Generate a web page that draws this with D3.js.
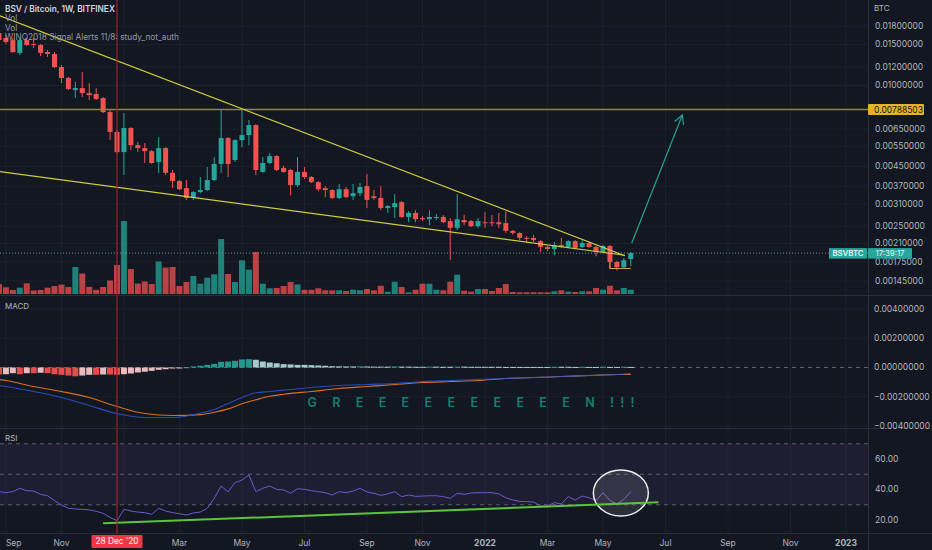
<!DOCTYPE html>
<html>
<head>
<meta charset="utf-8">
<script src="https://cdn.jsdelivr.net/npm/d3@7"></script>
<style>
  body { margin: 0; background: #131722; overflow: hidden; }
  text { font-family: Inter, "Noto Sans", sans-serif; }
</style>
</head>
<body>
<div id="chart"></div>
<script>

// ---- data (weekly candles, first week 31 Aug 2020) ----
var firstWeek = "2020-08-31", lastWeekEnd = "2022-06-06";

var opens = [0.01679,0.01599,0.01567,0.01379,0.01567,0.01507,0.01492,0.01392,0.01365,0.01200,0.01077,0.00956,0.00975,0.00928,0.00919,0.00883,0.00769,0.00632,0.00518,0.00657,0.00555,0.00539,0.00523,0.00470,0.00539,0.00422,0.00389,0.00363,0.00329,0.00349,0.00356,0.00393,0.00461,0.00595,0.00479,0.00583,0.00613,0.00676,0.00426,0.00465,0.00498,0.00443,0.00434,0.00374,0.00426,0.00405,0.00385,0.00363,0.00356,0.00329,0.00359,0.00335,0.00345,0.00370,0.00335,0.00329,0.00298,0.00301,0.00316,0.00273,0.00284,0.00270,0.00267,0.00270,0.00273,0.00262,0.00245,0.00265,0.00262,0.00249,0.00259,0.00259,0.00259,0.00257,0.00238,0.00233,0.00222,0.00222,0.00215,0.00203,0.00199,0.00207,0.00203,0.00215,0.00203,0.00211,0.00203,0.00193,0.00205,0.00175,0.00166,0.00180];
var highs = [0.01713,0.01647,0.01599,0.01583,0.01583,0.01599,0.01507,0.01420,0.01392,0.01224,0.01090,0.01035,0.01142,0.01025,0.00975,0.00892,0.00785,0.00644,0.00762,0.00663,0.00572,0.00566,0.00529,0.00601,0.00544,0.00434,0.00393,0.00393,0.00352,0.00405,0.00447,0.00493,0.00785,0.00601,0.00589,0.00800,0.00711,0.00683,0.00493,0.00513,0.00503,0.00452,0.00439,0.00493,0.00447,0.00409,0.00389,0.00370,0.00359,0.00378,0.00367,0.00378,0.00382,0.00418,0.00356,0.00370,0.00307,0.00342,0.00320,0.00289,0.00292,0.00275,0.00292,0.00281,0.00278,0.00270,0.00342,0.00278,0.00265,0.00270,0.00286,0.00278,0.00284,0.00289,0.00240,0.00235,0.00226,0.00229,0.00217,0.00205,0.00213,0.00222,0.00217,0.00217,0.00217,0.00215,0.00205,0.00207,0.00207,0.00177,0.00182,0.00193];
var lows = [0.01552,0.01507,0.01379,0.01352,0.01477,0.01449,0.01338,0.01325,0.01188,0.01025,0.00956,0.00883,0.00892,0.00866,0.00866,0.00762,0.00583,0.00510,0.00413,0.00529,0.00518,0.00465,0.00461,0.00422,0.00413,0.00363,0.00356,0.00323,0.00323,0.00345,0.00352,0.00389,0.00422,0.00405,0.00470,0.00544,0.00555,0.00413,0.00422,0.00461,0.00430,0.00422,0.00338,0.00367,0.00397,0.00382,0.00352,0.00332,0.00326,0.00326,0.00329,0.00323,0.00335,0.00298,0.00323,0.00292,0.00284,0.00270,0.00270,0.00259,0.00259,0.00262,0.00252,0.00265,0.00257,0.00178,0.00240,0.00252,0.00247,0.00245,0.00245,0.00249,0.00245,0.00233,0.00229,0.00217,0.00211,0.00213,0.00193,0.00195,0.00187,0.00201,0.00201,0.00199,0.00201,0.00201,0.00185,0.00191,0.00164,0.00161,0.00164,0.00168];
var closes = [0.01567,0.01537,0.01392,0.01567,0.01492,0.01492,0.01379,0.01365,0.01200,0.01077,0.00965,0.00975,0.00928,0.00910,0.00875,0.00769,0.00632,0.00518,0.00657,0.00555,0.00539,0.00523,0.00465,0.00539,0.00422,0.00389,0.00359,0.00329,0.00349,0.00356,0.00393,0.00461,0.00595,0.00461,0.00583,0.00613,0.00676,0.00434,0.00465,0.00498,0.00434,0.00426,0.00374,0.00426,0.00405,0.00385,0.00359,0.00356,0.00329,0.00359,0.00332,0.00345,0.00367,0.00323,0.00329,0.00298,0.00304,0.00313,0.00273,0.00284,0.00267,0.00267,0.00273,0.00273,0.00259,0.00245,0.00267,0.00259,0.00249,0.00262,0.00257,0.00257,0.00254,0.00238,0.00233,0.00222,0.00220,0.00217,0.00203,0.00199,0.00207,0.00203,0.00215,0.00201,0.00211,0.00203,0.00193,0.00205,0.00175,0.00166,0.00178,0.00191];
var volumes = [1000,670,400,630,1070,350,400,630,800,950,700,2700,2050,720,420,700,1350,2900,7300,2500,1050,1250,1000,3250,2650,2700,800,1200,1800,1030,1630,1970,5500,2000,1200,3370,2430,4200,1030,570,600,800,1200,950,420,420,570,370,370,370,300,430,370,500,370,830,230,1230,700,170,430,1030,1030,430,370,1230,1930,330,230,500,500,300,600,1000,200,170,170,170,170,170,270,370,230,200,270,270,600,430,830,370,600,430];

var macdHist = [-0.00048,-0.00046,-0.00039,-0.00046,-0.00039,-0.00039,-0.00036,-0.00039,-0.00046,-0.00050,-0.00055,-0.00060,-0.00055,-0.00050,-0.00050,-0.00048,-0.00048,-0.00050,-0.00046,-0.00041,-0.00034,-0.00029,-0.00023,-0.00016,-0.00012,-0.00007,-0.00003,0.00002,0.00007,0.00012,0.00018,0.00025,0.00039,0.00041,0.00046,0.00055,0.00057,0.00053,0.00041,0.00034,0.00029,0.00023,0.00021,0.00018,0.00018,0.00016,0.00014,0.00012,0.00009,0.00008,0.00007,0.00007,0.00008,0.00007,0.00006,0.00006,0.00006,0.00007,0.00006,0.00006,0.00005,0.00005,0.00006,0.00006,0.00005,0.00005,0.00006,0.00006,0.00005,0.00005,0.00005,0.00005,0.00005,0.00004,0.00004,0.00004,0.00004,0.00004,0.00004,0.00004,0.00005,0.00005,0.00005,0.00004,0.00005,0.00004,0.00004,0.00005,0.00004,0.00004,0.00005,0.00004];
// MACD / signal lines, sampled at these week numbers (0 = first week)
var macdWeeks = [0,1,5,9,13,17,21,25,29,31,33,35,37,39,41,45,49,53,57,61,65,69,73,77,81,85,89,91];
var macdLine = [-0.00123,-0.00130,-0.00164,-0.00205,-0.00260,-0.00315,-0.00342,-0.00342,-0.00313,-0.00287,-0.00246,-0.00205,-0.00173,-0.00164,-0.00155,-0.00137,-0.00123,-0.00116,-0.00109,-0.00096,-0.00089,-0.00082,-0.00075,-0.00068,-0.00062,-0.00055,-0.00048,-0.00041];
var signalLine = [-0.00082,-0.00089,-0.00130,-0.00164,-0.00205,-0.00267,-0.00315,-0.00328,-0.00322,-0.00306,-0.00283,-0.00248,-0.00221,-0.00197,-0.00183,-0.00164,-0.00144,-0.00130,-0.00116,-0.00103,-0.00096,-0.00089,-0.00075,-0.00068,-0.00062,-0.00055,-0.00048,-0.00048];

var rsiValues = [38.6,37.9,38.6,40.8,39.2,39.0,36.8,35.9,32.7,29.8,27.7,27.2,27.0,26.6,25.7,24.4,21.7,19.5,27.0,25.9,25.2,24.8,23.7,27.7,25.9,24.8,24.1,23.3,24.6,25.2,27.7,34.2,42.3,38.4,44.5,46.2,49.5,38.6,40.8,42.3,40.1,39.7,37.5,40.5,40.1,39.2,38.6,37.9,36.4,38.6,37.9,39.0,40.8,38.4,37.5,36.2,37.1,38.6,35.3,36.4,35.5,35.7,35.9,35.9,35.3,34.2,37.5,36.8,37.7,37.9,37.9,37.9,37.1,34.6,33.1,32.2,32.0,31.8,29.2,29.2,31.4,30.5,35.3,33.1,35.7,34.6,32.7,37.9,32.7,30.5,33.5,38.6];

// axis ticks
var priceTicks = [0.018,0.015,0.012,0.010,0.0065,0.0055,0.0045,0.0037,0.0031,0.0025,0.0021,0.00175,0.00145];
var macdTicks = [0.004,0.002,0,-0.002,-0.004];
var rsiTicks = [60,40,20];
var rsiLevels = [70,50,30];
var timeTickDates = ["2020-09-07","2020-11-02","2021-01-04","2021-03-01","2021-05-03","2021-07-05","2021-09-06","2021-11-01","2022-01-03","2022-03-07","2022-05-02","2022-07-04","2022-09-05","2022-11-07","2023-01-02"];
var timeTickLabels = ["Sep","Nov","","Mar","May","Jul","Sep","Nov","2022","Mar","May","Jul","Sep","Nov","2023"];

// drawings on the chart
var markedDate = "2020-12-28", markedLabel = "28 Dec '20";
var resistance = 0.00788503;
var upperTrend = [["2020-09-01",0.01990],["2022-05-24",0.00186]];
var lowerTrend = [["2020-09-01",0.00427],["2022-05-24",0.00187]];
var bracket = [["2022-05-09",0.00175],["2022-05-09",0.00164],["2022-05-30",0.00164]];
var targetArrow = [["2022-05-31",0.00211],["2022-07-21",0.00747]];
var rsiSupport = [["2020-12-14",17.8],["2022-06-27",31.6]];
var rsiCircle = ["2022-05-20",37.7];
var greenNote = ["2021-07-08",-0.00272,"G R E E E E E E E E E E N !!!"];
var legendLines = ["BSV / Bitcoin, 1W, BITFINEX","Vol","Vol","WINQ2018 Signal Alerts 11/8: study_not_auth"];

//////////////////////////////////////////////////////////////////////////////

var W = 932, H = 550, plotRight = 868;
var up = "#26a69a", down = "#ef5350", gridColor = "#1d212c", textColor = "#b2b5be";
var parseDay = d3.utcParse("%Y-%m-%d");
var weeks = d3.utcMonday.range(parseDay(firstWeek), parseDay(lastWeekEnd));

var candles = weeks.map((d, i) => ({
    date: d, o: opens[i], h: highs[i], l: lows[i], c: closes[i], v: volumes[i],
    hist: macdHist[i], rsi: rsiValues[i]
}));

var x = d3.scaleUtc()
    .domain([parseDay("2020-12-28"), parseDay("2023-01-02")])
    .range([117, 846]);
var yPrice = d3.scaleLog().domain([0.018, 0.00145]).range([26, 281]);
var yVol = d3.scaleLinear().domain([0, 7300]).range([294, 221]);
var yMacd = d3.scaleLinear().domain([0.004, -0.004]).range([309, 426]);
var yRsi = d3.scaleLinear().domain([60, 20]).range([459, 520]);

var svg = d3.select("#chart").append("svg")
    .attr("width", W).attr("height", H);

svg.append("rect").attr("width", W).attr("height", H).attr("fill", "#131722");

var defs = svg.append("defs");
function clip(id, y0, y1) {
    defs.append("clipPath").attr("id", id)
        .append("rect").attr("x", 0).attr("y", y0).attr("width", plotRight).attr("height", y1 - y0);
    return "url(#" + id + ")";
}
var mainClip = clip("mainClip", 0, 295);
var macdClip = clip("macdClip", 296, 428);
var rsiClip = clip("rsiClip", 429, 533);

// grid
var grid = svg.append("g");
grid.selectAll(".vg").data(timeTickDates).enter().append("line")
    .attr("x1", d => x(parseDay(d))).attr("x2", d => x(parseDay(d)))
    .attr("y1", 0).attr("y2", 533)
    .attr("stroke", gridColor);
grid.selectAll(".hg").data(priceTicks).enter().append("line")
    .attr("x1", 0).attr("x2", plotRight)
    .attr("y1", d => yPrice(d)).attr("y2", d => yPrice(d))
    .attr("stroke", gridColor);
grid.selectAll(".mg").data(macdTicks.filter(d => d !== 0)).enter().append("line")
    .attr("x1", 0).attr("x2", plotRight)
    .attr("y1", d => yMacd(d)).attr("y2", d => yMacd(d))
    .attr("stroke", gridColor);

// ---- main pane ----
var main = svg.append("g").attr("clip-path", mainClip);

main.selectAll(".vol").data(candles).enter().append("rect")
    .attr("x", d => x(d.date) - 3)
    .attr("width", 6)
    .attr("y", d => yVol(d.v))
    .attr("height", d => yVol(0) - yVol(d.v))
    .attr("fill", d => d.c >= d.o ? up : down)
    .attr("opacity", 0.75);

var candleG = main.selectAll(".candle").data(candles).enter().append("g");
candleG.append("line")
    .attr("x1", d => x(d.date)).attr("x2", d => x(d.date))
    .attr("y1", d => yPrice(d.h)).attr("y2", d => yPrice(d.l))
    .attr("stroke", d => d.c >= d.o ? up : down);
candleG.append("rect")
    .attr("x", d => x(d.date) - 2.5)
    .attr("width", 5)
    .attr("y", d => yPrice(Math.max(d.o, d.c)))
    .attr("height", d => Math.max(1, Math.abs(yPrice(d.o) - yPrice(d.c))))
    .attr("fill", d => d.c >= d.o ? up : down);

var lineP = d3.line().x(d => x(parseDay(d[0]))).y(d => yPrice(d[1]));

// resistance level
main.append("line")
    .attr("x1", 0).attr("x2", plotRight)
    .attr("y1", yPrice(resistance)).attr("y2", yPrice(resistance))
    .attr("stroke", "#8c8735").attr("stroke-width", 1.4);

// last price line
var lastClose = closes[closes.length - 1];
main.append("line")
    .attr("x1", 0).attr("x2", plotRight)
    .attr("y1", yPrice(lastClose)).attr("y2", yPrice(lastClose))
    .attr("stroke", "#6f8f8c").attr("stroke-dasharray", "1,2");

[upperTrend, lowerTrend].forEach(t => {
    main.append("path").attr("d", lineP(t))
        .attr("fill", "none").attr("stroke", "#cfcc3c").attr("stroke-width", 1.1);
});
main.append("path").attr("d", lineP(bracket))
    .attr("fill", "none").attr("stroke", "#c9a43c").attr("stroke-width", 1.1);

// target arrow
var a0 = [x(parseDay(targetArrow[0][0])), yPrice(targetArrow[0][1])];
var a1 = [x(parseDay(targetArrow[1][0])), yPrice(targetArrow[1][1])];
var ang = Math.atan2(a1[1] - a0[1], a1[0] - a0[0]);
var headLen = 10;
var head = [
    [a1[0] - headLen * Math.cos(ang - 0.5), a1[1] - headLen * Math.sin(ang - 0.5)],
    a1,
    [a1[0] - headLen * Math.cos(ang + 0.5), a1[1] - headLen * Math.sin(ang + 0.5)]
];
main.append("line")
    .attr("x1", a0[0]).attr("y1", a0[1]).attr("x2", a1[0]).attr("y2", a1[1])
    .attr("stroke", "#22a394").attr("stroke-width", 1.2);
main.append("path").attr("d", d3.line()(head))
    .attr("fill", "none").attr("stroke", "#22a394").attr("stroke-width", 1.2);

// ---- MACD pane ----
var macdG = svg.append("g").attr("clip-path", macdClip);
macdG.append("line")
    .attr("x1", 0).attr("x2", plotRight)
    .attr("y1", yMacd(0)).attr("y2", yMacd(0))
    .attr("stroke", "#5d606b").attr("stroke-dasharray", "4,4");

function histColor(d, i) {
    var prev = i > 0 ? macdHist[i - 1] : d.hist;
    if (d.hist >= 0) return prev < d.hist ? "#26a69a" : "#b2dfdb";
    return prev < d.hist ? "#ffcdd2" : "#ff5252";
}
macdG.selectAll(".hist").data(candles).enter().append("rect")
    .attr("x", d => x(d.date) - 3)
    .attr("width", 6)
    .attr("y", d => Math.min(yMacd(d.hist), yMacd(0)))
    .attr("height", d => Math.max(1, Math.abs(yMacd(d.hist) - yMacd(0))))
    .attr("fill", (d, i) => histColor(d, i))
    .attr("opacity", 0.9);

var macdX = k => x(weeks[k]);
var lineM = d3.line().curve(d3.curveMonotoneX);
macdG.append("path")
    .attr("d", lineM(macdWeeks.map((k, i) => [macdX(k), yMacd(signalLine[i])])))
    .attr("fill", "none").attr("stroke", "#d9701f").attr("stroke-width", 1.1);
macdG.append("path")
    .attr("d", lineM(macdWeeks.map((k, i) => [macdX(k), yMacd(macdLine[i])])))
    .attr("fill", "none").attr("stroke", "#2f55d4").attr("stroke-width", 1.1).attr("opacity", 0.85);

macdG.append("text")
    .attr("x", x(parseDay(greenNote[0]))).attr("y", yMacd(greenNote[1]))
    .attr("textLength", 327).attr("lengthAdjust", "spacing")
    .attr("font-size", 12.5).attr("font-weight", 600)
    .attr("fill", "#128070")
    .text(greenNote[2]);

// ---- RSI pane ----
var rsiG = svg.append("g").attr("clip-path", rsiClip);
rsiG.append("rect")
    .attr("x", 0).attr("width", plotRight)
    .attr("y", yRsi(70)).attr("height", yRsi(30) - yRsi(70))
    .attr("fill", "#7e57c2").attr("opacity", 0.1);
rsiG.selectAll(".lvl").data(rsiLevels).enter().append("line")
    .attr("x1", 0).attr("x2", plotRight)
    .attr("y1", d => yRsi(d)).attr("y2", d => yRsi(d))
    .attr("stroke", "#787b86").attr("stroke-dasharray", "4,4").attr("opacity", 0.7);
rsiG.append("path")
    .datum(candles)
    .attr("d", d3.line().x(d => x(d.date)).y(d => yRsi(d.rsi)))
    .attr("fill", "none").attr("stroke", "#6a5acd").attr("stroke-width", 1);
rsiG.append("ellipse")
    .attr("cx", x(parseDay(rsiCircle[0]))).attr("cy", yRsi(rsiCircle[1]))
    .attr("rx", 27.5).attr("ry", 23)
    .attr("fill", "rgba(255,255,255,0.1)").attr("stroke", "#f0f0f0").attr("stroke-width", 1.5);
rsiG.append("path")
    .attr("d", d3.line().x(d => x(parseDay(d[0]))).y(d => yRsi(d[1]))(rsiSupport))
    .attr("fill", "none").attr("stroke", "#5ac43c").attr("stroke-width", 2);

// marked date line
var xm = x(parseDay(markedDate));
svg.append("line")
    .attr("x1", xm).attr("x2", xm).attr("y1", 0).attr("y2", 533)
    .attr("stroke", "#a3202b").attr("stroke-width", 1.2);

// separators
[295.5, 428.5, 533.5].forEach(yy => {
    svg.append("line").attr("x1", 0).attr("x2", W).attr("y1", yy).attr("y2", yy)
        .attr("stroke", "#2a2e39");
});
svg.append("line").attr("x1", plotRight + 0.5).attr("x2", plotRight + 0.5)
    .attr("y1", 0).attr("y2", H).attr("stroke", "#2a2e39");

// legends
svg.selectAll(".legend").data(legendLines).enter().append("text")
    .attr("x", 5).attr("y", (d, i) => 12 + i * 9.3)
    .attr("font-size", 8.3)
    .attr("font-weight", (d, i) => i === 0 ? 600 : 400)
    .attr("fill", (d, i) => i === 0 ? "#d1d4dc" : "#9598a1")
    .text(d => d);
svg.append("text").attr("x", 5).attr("y", 309).attr("font-size", 8).attr("fill", textColor).text("MACD");
svg.append("text").attr("x", 5).attr("y", 441).attr("font-size", 8).attr("fill", textColor).text("RSI");

// right axis labels
var fmt8 = d3.format(".8f");
var axisG = svg.append("g").attr("font-size", 8.5).attr("fill", textColor);
axisG.append("text").attr("x", 874).attr("y", 11).attr("font-size", 8).text("BTC");
axisG.selectAll(".pt").data(priceTicks).enter().append("text")
    .attr("x", 875).attr("y", d => yPrice(d)).attr("dy", "0.35em").text(d => fmt8(d));
axisG.selectAll(".mt").data(macdTicks).enter().append("text")
    .attr("x", 874).attr("y", d => yMacd(d)).attr("dy", "0.35em").text(d => fmt8(d));
axisG.selectAll(".rt").data(rsiTicks).enter().append("text")
    .attr("x", 875).attr("y", d => yRsi(d)).attr("dy", "0.35em").text(d => d3.format(".2f")(d));

// resistance label
var yr = yPrice(resistance);
svg.append("rect").attr("x", 868).attr("y", yr - 5.5).attr("width", 56).attr("height", 11)
    .attr("fill", "#e6b422").attr("rx", 1);
svg.append("text").attr("x", 874).attr("y", yr).attr("dy", "0.35em")
    .attr("font-size", 8.5).attr("fill", "#131722").text(fmt8(resistance));

// symbol / countdown label
var yl = yPrice(lastClose);
svg.append("rect").attr("x", 829).attr("y", yl - 5).attr("width", 38).attr("height", 10.5).attr("fill", "#26a69a");
svg.append("text").attr("x", 848).attr("y", yl).attr("dy", "0.35em").attr("text-anchor", "middle")
    .attr("font-size", 7.8).attr("font-weight", 600).attr("fill", "#e9f5f3").text("BSVBTC");
svg.append("rect").attr("x", 868).attr("y", yl - 5).attr("width", 44).attr("height", 10.5).attr("fill", "#26a69a");
svg.append("text").attr("x", 890).attr("y", yl).attr("dy", "0.35em").attr("text-anchor", "middle")
    .attr("font-size", 7.8).attr("fill", "#e9f5f3").text("17:39:17");

// time axis (a label too close to the left edge is pinned inside it)
svg.selectAll(".tt").data(timeTickDates).enter().append("text")
    .attr("x", d => Math.max(1, x(parseDay(d)) - 0) )
    .attr("y", 546)
    .attr("text-anchor", d => x(parseDay(d)) < 10 ? "start" : "middle")
    .attr("font-size", 8.5)
    .attr("font-weight", (d, i) => /^\d{4}$/.test(timeTickLabels[i]) ? 700 : 400)
    .attr("fill", textColor)
    .text((d, i) => timeTickLabels[i]);

svg.append("rect").attr("x", xm - 25.5).attr("y", 535).attr("width", 51).attr("height", 13)
    .attr("fill", "#f23645").attr("rx", 1);
svg.append("text").attr("x", xm).attr("y", 541.5).attr("dy", "0.35em").attr("text-anchor", "middle")
    .attr("font-size", 8.3).attr("fill", "#ffffff").text(markedLabel);

</script>
</body>
</html>
